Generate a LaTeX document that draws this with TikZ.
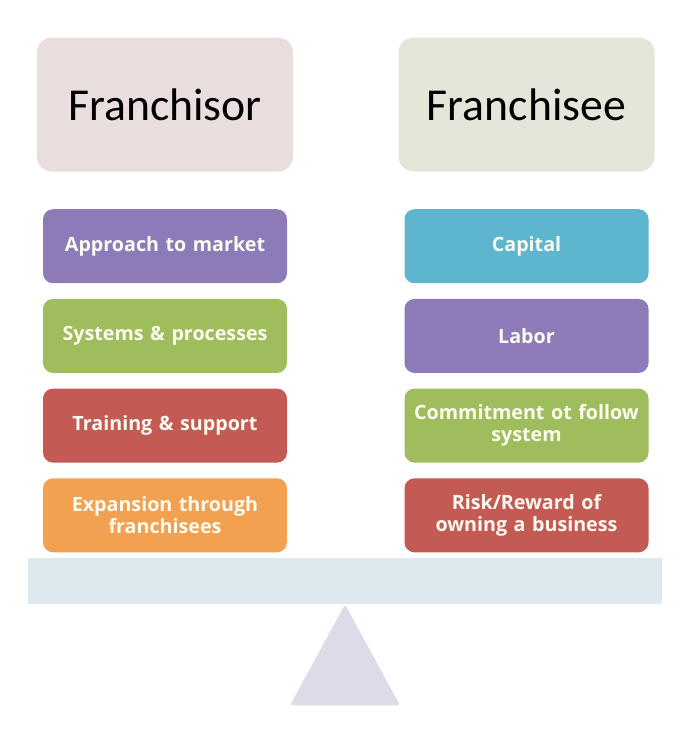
\documentclass[tikz,border=0pt]{standalone}
\usepackage{fontspec}
\setmainfont{Carlito}
\newfontfamily\itemfont{Open Sans}
\usepackage{xcolor}
\usepackage{tikz}
\usetikzlibrary{positioning}
\definecolor{headpink}{HTML}{EADDDD}
\definecolor{headgreen}{HTML}{E3E7DA}
\definecolor{itempurple}{HTML}{8C7BB8}
\definecolor{itemgreen}{HTML}{9FBD5C}
\definecolor{itemred}{HTML}{C35A54}
\definecolor{itemorange}{HTML}{F1A150}
\definecolor{itemteal}{HTML}{5DB6CD}
\definecolor{itemtext}{HTML}{FBFBF0}
\definecolor{beamblue}{HTML}{DDE9EE}
\definecolor{pivotgray}{HTML}{DDDBE7}

\begin{document}
\begin{tikzpicture}[node distance=0.3cm]
\tikzstyle{head}=[rounded corners=0.3cm,align=center,minimum width=5.12cm,minimum height=2.68cm,font=\fontsize{26}{30}\selectfont,text=black]
\tikzstyle{item}=[rounded corners=0.2cm,align=center,text width=4.88cm,minimum height=1.48cm,inner sep=0pt,font=\itemfont\bfseries\fontsize{11.2}{12.5}\selectfont,text=itemtext]
\useasboundingbox (0,0) rectangle (13.72,-14.68);
\node[head,fill=headpink] (franchisor) at (3.30,-2.09) {Franchisor};
\node[head,fill=headgreen] (franchisee) at (10.53,-2.09) {Franchisee};
\node[item,fill=itempurple,below=0.74cm of franchisor] (market) {Approach to market};
\node[item,fill=itemgreen,below=of market] (systems) {Systems \& processes};
\node[item,fill=itemred,below=of systems] (training) {Training \& support};
\node[item,fill=itemorange,below=of training] (expansion) {Expansion through\\franchisees};
\node[item,fill=itemteal,below=0.74cm of franchisee] (capital) {Capital};
\node[item,fill=itempurple,below=of capital] (labor) {Labor};
\node[item,fill=itemgreen,below=of labor] (commitment) {Commitment ot follow\\system};
\node[item,fill=itemred,below=of commitment] (risk) {Risk/Reward of\\owning a business};
\node[fill=beamblue,minimum width=12.68cm,minimum height=0.92cm,inner sep=0pt] (beam) at (6.90,-11.62) {};
\fill[pivotgray,rounded corners=0.05cm] (beam.south) -- ++(-1.1,-2.02) -- ++(2.2,0) -- cycle;
\end{tikzpicture}
\end{document}
